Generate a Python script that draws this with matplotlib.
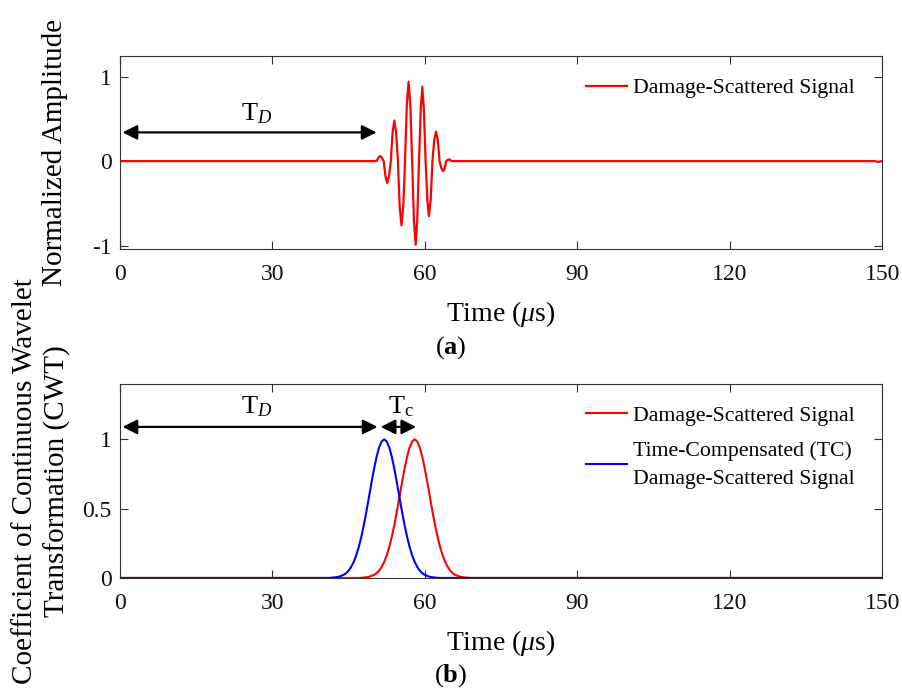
import matplotlib.pyplot as plt
import numpy as np

plt.rcParams['font.family'] = 'Liberation Serif'
plt.rcParams['mathtext.fontset'] = 'custom'
plt.rcParams['mathtext.rm'] = 'Liberation Serif'
plt.rcParams['mathtext.it'] = 'Liberation Serif:italic'
plt.rcParams['mathtext.bf'] = 'Liberation Serif:bold'
plt.rcParams['axes.unicode_minus'] = False

# (a) damage-scattered signal (time in us, normalized amplitude)
sig_t = [0, 49.0, 50.5, 50.85, 51.2, 51.55, 51.9, 52.25, 52.6, 52.95, 53.3, 53.65, 54.0, 54.35,
         54.7, 55.05, 55.4, 55.75, 56.1, 56.45, 56.8, 57.15, 57.5, 57.85, 58.2, 58.5, 58.85,
         59.2, 59.5, 59.8, 60.15, 60.5, 60.8, 61.15, 61.5, 61.85, 62.2, 62.55, 62.9, 63.25,
         63.6, 63.9, 64.2, 64.5, 64.8, 65.3, 148.5, 149.2, 150]
sig_v = [0, 0, 0, 0.04, 0.06, 0.04, 0, -0.18, -0.26, -0.18, 0, 0.34, 0.48, 0.34,
         0, -0.54, -0.76, -0.54, 0, 0.66, 0.94, 0.66, 0, -0.70, -0.99, -0.70, 0,
         0.62, 0.88, 0.62, 0, -0.46, -0.65, -0.46, 0, 0.25, 0.35, 0.25, 0, -0.085,
         -0.12, -0.085, 0, 0.015, 0.02, 0, 0, -0.01, 0]

# (b) CWT coefficients
dmg_t = [0, 47, 48, 49, 50, 50.5, 51, 51.5, 52, 52.5, 53, 53.5, 54, 54.5, 55, 55.5, 56, 56.5,
         57, 57.5, 58, 58.5, 59, 59.5, 60, 60.5, 61, 61.5, 62, 62.5, 63, 63.5, 64, 64.5, 65,
         65.5, 66, 67, 68, 69, 150]
dmg_v = [0, 0, 0.003, 0.008, 0.022, 0.034, 0.053, 0.080, 0.116, 0.163, 0.224, 0.297, 0.383,
         0.480, 0.583, 0.688, 0.787, 0.874, 0.942, 0.985, 1.0, 0.985, 0.942, 0.874, 0.787,
         0.688, 0.583, 0.480, 0.383, 0.297, 0.224, 0.163, 0.116, 0.080, 0.053, 0.034, 0.022,
         0.008, 0.003, 0, 0]
tc_t = [0, 41, 42, 43, 44, 44.5, 45, 45.5, 46, 46.5, 47, 47.5, 48, 48.5, 49, 49.5, 50, 50.5,
        51, 51.5, 52, 52.5, 53, 53.5, 54, 54.5, 55, 55.5, 56, 56.5, 57, 57.5, 58, 58.5, 59,
        59.5, 60, 61, 62, 63, 150]
tc_v = [0, 0, 0.003, 0.008, 0.022, 0.034, 0.053, 0.080, 0.116, 0.163, 0.224, 0.297, 0.383,
        0.480, 0.583, 0.688, 0.787, 0.874, 0.942, 0.985, 1.0, 0.985, 0.942, 0.874, 0.787,
        0.688, 0.583, 0.480, 0.383, 0.297, 0.224, 0.163, 0.116, 0.080, 0.053, 0.034, 0.022,
        0.008, 0.003, 0, 0]

xticks = [0, 30, 60, 90, 120, 150]
edge = '#333333'
arrow_kw = dict(arrowstyle='<|-|>', color='black', lw=1.6, mutation_scale=22,
                shrinkA=0, shrinkB=0)

fig = plt.figure(figsize=(9.02, 6.93), dpi=100)
ax1 = fig.add_axes([0.133, 0.6407, 0.845, 0.278])
ax2 = fig.add_axes([0.133, 0.166, 0.845, 0.280])

for ax in (ax1, ax2):
    ax.set_xlim(0, 150)
    ax.set_xticks(xticks)
    ax.tick_params(direction='in', top=True, right=True, length=6, width=0.8,
                   colors=edge, labelcolor='#111111', labelsize=17)
    ax.tick_params(axis='x', pad=11)
    ax.tick_params(axis='y', pad=6)
    for s in ax.spines.values():
        s.set_color(edge)
        s.set_linewidth(0.8)
    ax.set_xlabel(r'Time ($\mu$s)', fontsize=20, labelpad=10)

# top panel
ax1.plot(sig_t, sig_v, color='#ff0000', lw=1.6, label='Damage-Scattered Signal')
ax1.set_ylim(-1.04, 1.24)
ax1.set_yticks([-1, 0, 1])
ax1.set_ylabel('Normalized Amplitude', fontsize=21, labelpad=17)
ax1.annotate('', xy=(0.5, 0.34), xytext=(50.5, 0.34), arrowprops=arrow_kw)
ax1.text(27, 0.42, r'T$_{D}$', fontsize=19, ha='center', va='bottom')
ax1.legend(loc='upper right', bbox_to_anchor=(0.99, 0.99), frameon=False, fontsize=15.7,
           handlelength=1.85, handletextpad=0.3)

# bottom panel
ax2.plot(dmg_t, dmg_v, color='#ff0000', lw=1.5, label='Damage-Scattered Signal')
ax2.plot(tc_t, tc_v, color='#0000ff', lw=1.5,
         label='Time-Compensated (TC)\nDamage-Scattered Signal')
ax2.set_ylim(0, 1.4)
ax2.set_yticks([0, 0.5, 1])
ax2.set_yticklabels(['0', '0.5', '1'])
ax2.set_ylabel('Coefficient of Continuous Wavelet\nTransformation (CWT)', fontsize=21,
               labelpad=8, linespacing=1.3)
ax2.annotate('', xy=(0.5, 1.09), xytext=(50.7, 1.09), arrowprops=arrow_kw)
ax2.annotate('', xy=(51.3, 1.09), xytext=(58.3, 1.09), arrowprops=arrow_kw)
ax2.text(27, 1.15, r'T$_{D}$', fontsize=19, ha='center', va='bottom')
ax2.text(55.3, 1.15, r'T$_\mathrm{c}$', fontsize=19, ha='center', va='bottom')
leg = ax2.legend(loc='upper right', bbox_to_anchor=(0.99, 0.99), frameon=False,
                 fontsize=15.7, handlelength=1.85, handletextpad=0.3, labelspacing=0.7)
leg.get_texts()[1].set_linespacing(1.65)

fig.text(0.5, 0.498, r'($\mathbf{a}$)', fontsize=19, ha='center', va='center')
fig.text(0.5, 0.025, r'($\mathbf{b}$)', fontsize=19, ha='center', va='center')

fig.savefig('out.png', dpi=100)
